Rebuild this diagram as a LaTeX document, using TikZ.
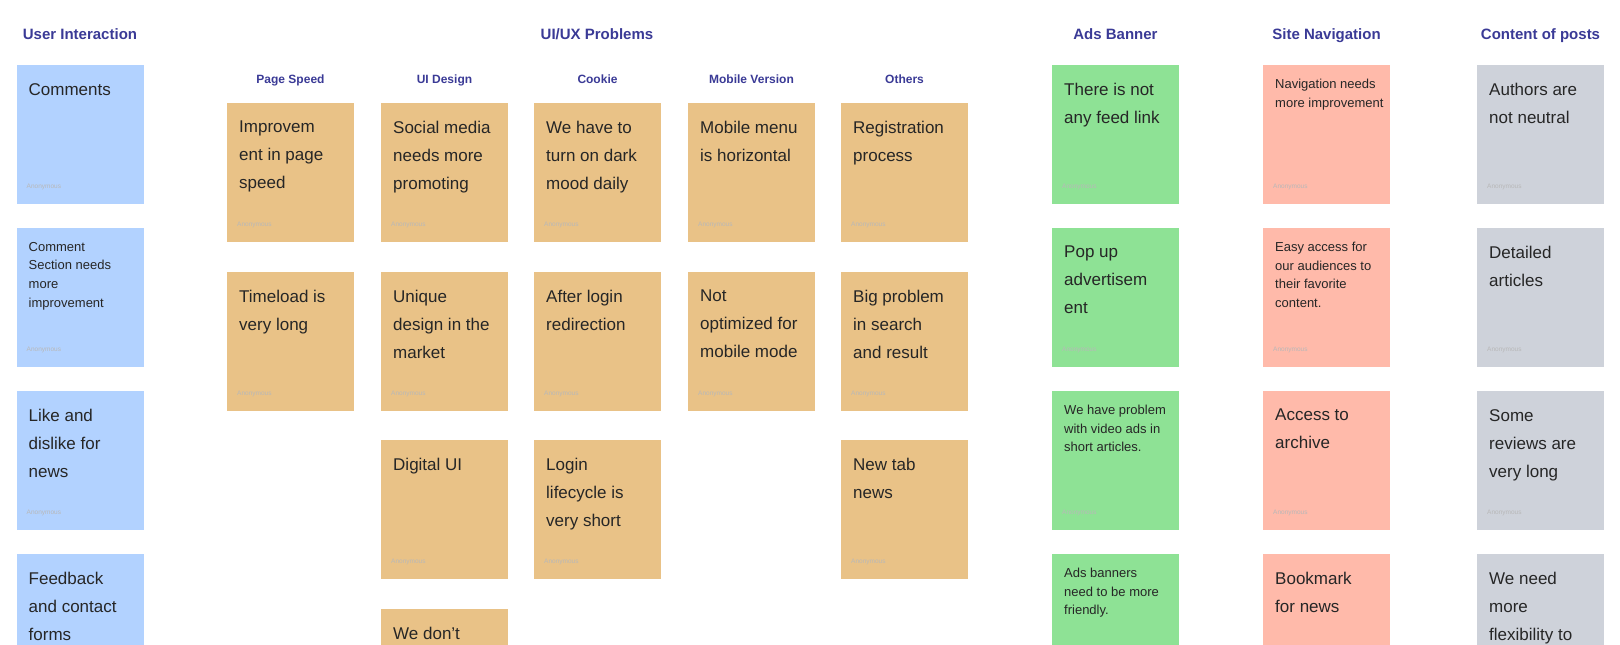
\documentclass[tikz,border=0pt]{standalone}
\usepackage{fontspec}
\setmainfont{Liberation Sans}
\usetikzlibrary{positioning}

\definecolor{headblue}{RGB}{58,58,150}
\definecolor{noteblue}{RGB}{178,210,255}
\definecolor{noteorange}{RGB}{233,194,135}
\definecolor{notegreen}{RGB}{142,226,149}
\definecolor{notepink}{RGB}{255,186,170}
\definecolor{notegray}{RGB}{206,210,218}

\begin{document}
\begin{tikzpicture}[x=1pt, y=1pt,
    heading/.style={anchor=base, text=headblue, font=\bfseries\fontsize{15}{18}\selectfont},
    subheading/.style={anchor=base, text=headblue, font=\bfseries\fontsize{12}{14}\selectfont},
    tag/.style={text=black!28, font=\fontsize{6.5}{8}\selectfont, inner sep=0pt},
    sticky/.style={anchor=north west, inner sep=0pt, minimum width=127pt, minimum height=139pt,
        label={[tag, anchor=south west, xshift=10pt, yshift=14pt]south west:Anonymous}},
    note/.style={anchor=north west, align=left, inner sep=0pt, text=black!85, font=\fontsize{17}{28}\selectfont},
    smallnote/.style={note, font=\fontsize{13}{18.6}\selectfont}]

        % Frame of the board
        \useasboundingbox (0,0) rectangle (1620,-645);
        \clip (0,0) rectangle (1620,-645);

        % Group titles
        \node[heading] (hUser) at (80,-39.5) {User Interaction};
        \node[heading] (hProblems) at (597,-39.5) {UI/UX Problems};
        \node[heading] (hAds) at (1115.5,-39.5) {Ads Banner};
        \node[heading] (hNav) at (1326.5,-39.5) {Site Navigation};
        \node[heading] (hContent) at (1540.5,-39.5) {Content of posts};

        % Sub titles of UI/UX Problems
        \node[subheading] (hSpeed) at (290.5,-83.5) {Page Speed};
        \node[subheading] (hDesign) at (444.5,-83.5) {UI Design};
        \node[subheading] (hCookie) at (597.5,-83.5) {Cookie};
        \node[subheading] (hMobile) at (751.5,-83.5) {Mobile Version};
        \node[subheading] (hOthers) at (904.5,-83.5) {Others};

        % User Interaction
        \node[sticky, fill=noteblue] (usr1) at (16.5,-65) {};
        \node[note, below right=18pt and 12pt of usr1.north west] (usr1t) {Comments};
        \node[sticky, fill=noteblue] (usr2) at (16.5,-228) {};
        \node[smallnote, below right=14pt and 12pt of usr2.north west] (usr2t) {Comment\\Section needs\\more\\improvement};
        \node[sticky, fill=noteblue] (usr3) at (16.5,-391) {};
        \node[note, below right=18pt and 12pt of usr3.north west] (usr3t) {Like and\\dislike for\\news};
        \node[sticky, fill=noteblue] (usr4) at (16.5,-554) {};
        \node[note, below right=18pt and 12pt of usr4.north west] (usr4t) {Feedback\\and contact\\forms};

        % Page Speed
        \node[sticky, fill=noteorange] (spd1) at (227,-103) {};
        \node[note, below right=18pt and 12pt of spd1.north west] (spd1t) {Improvem\\ent in page\\speed};
        \node[sticky, fill=noteorange] (spd2) at (227,-272) {};
        \node[note, below right=18pt and 12pt of spd2.north west] (spd2t) {Timeload is\\very long};

        % UI Design
        \node[sticky, fill=noteorange] (dsg1) at (381,-103) {};
        \node[note, below right=18pt and 12pt of dsg1.north west] (dsg1t) {Social media\\needs more\\promoting};
        \node[sticky, fill=noteorange] (dsg2) at (381,-272) {};
        \node[note, below right=18pt and 12pt of dsg2.north west] (dsg2t) {Unique\\design in the\\market};
        \node[sticky, fill=noteorange] (dsg3) at (381,-440) {};
        \node[note, below right=18pt and 12pt of dsg3.north west] (dsg3t) {Digital UI};
        \node[sticky, fill=noteorange] (dsg4) at (381,-609) {};
        \node[note, below right=18pt and 12pt of dsg4.north west] (dsg4t) {We don't};

        % Cookie
        \node[sticky, fill=noteorange] (cki1) at (534,-103) {};
        \node[note, below right=18pt and 12pt of cki1.north west] (cki1t) {We have to\\turn on dark\\mood daily};
        \node[sticky, fill=noteorange] (cki2) at (534,-272) {};
        \node[note, below right=18pt and 12pt of cki2.north west] (cki2t) {After login\\redirection};
        \node[sticky, fill=noteorange] (cki3) at (534,-440) {};
        \node[note, below right=18pt and 12pt of cki3.north west] (cki3t) {Login\\lifecycle is\\very short};

        % Mobile Version
        \node[sticky, fill=noteorange] (mob1) at (688,-103) {};
        \node[note, below right=18pt and 12pt of mob1.north west] (mob1t) {Mobile menu\\is horizontal};
        \node[sticky, fill=noteorange] (mob2) at (688,-272) {};
        \node[note, below right=18pt and 12pt of mob2.north west] (mob2t) {Not\\optimized for\\mobile mode};

        % Others
        \node[sticky, fill=noteorange] (oth1) at (841,-103) {};
        \node[note, below right=18pt and 12pt of oth1.north west] (oth1t) {Registration\\process};
        \node[sticky, fill=noteorange] (oth2) at (841,-272) {};
        \node[note, below right=18pt and 12pt of oth2.north west] (oth2t) {Big problem\\in search\\and result};
        \node[sticky, fill=noteorange] (oth3) at (841,-440) {};
        \node[note, below right=18pt and 12pt of oth3.north west] (oth3t) {New tab\\news};

        % Ads Banner
        \node[sticky, fill=notegreen] (ads1) at (1052,-65) {};
        \node[note, below right=18pt and 12pt of ads1.north west] (ads1t) {There is not\\any feed link};
        \node[sticky, fill=notegreen] (ads2) at (1052,-228) {};
        \node[note, below right=18pt and 12pt of ads2.north west] (ads2t) {Pop up\\advertisem\\ent};
        \node[sticky, fill=notegreen] (ads3) at (1052,-391) {};
        \node[smallnote, below right=14pt and 12pt of ads3.north west] (ads3t) {We have problem\\with video ads in\\short articles.};
        \node[sticky, fill=notegreen] (ads4) at (1052,-554) {};
        \node[smallnote, below right=14pt and 12pt of ads4.north west] (ads4t) {Ads banners\\need to be more\\friendly.};

        % Site Navigation
        \node[sticky, fill=notepink] (nav1) at (1263,-65) {};
        \node[smallnote, below right=14pt and 12pt of nav1.north west] (nav1t) {Navigation needs\\more improvement};
        \node[sticky, fill=notepink] (nav2) at (1263,-228) {};
        \node[smallnote, below right=14pt and 12pt of nav2.north west] (nav2t) {Easy access for\\our audiences to\\their favorite\\content.};
        \node[sticky, fill=notepink] (nav3) at (1263,-391) {};
        \node[note, below right=18pt and 12pt of nav3.north west] (nav3t) {Access to\\archive};
        \node[sticky, fill=notepink] (nav4) at (1263,-554) {};
        \node[note, below right=18pt and 12pt of nav4.north west] (nav4t) {Bookmark\\for news};

        % Content of posts
        \node[sticky, fill=notegray] (cnt1) at (1477,-65) {};
        \node[note, below right=18pt and 12pt of cnt1.north west] (cnt1t) {Authors are\\not neutral};
        \node[sticky, fill=notegray] (cnt2) at (1477,-228) {};
        \node[note, below right=18pt and 12pt of cnt2.north west] (cnt2t) {Detailed\\articles};
        \node[sticky, fill=notegray] (cnt3) at (1477,-391) {};
        \node[note, below right=18pt and 12pt of cnt3.north west] (cnt3t) {Some\\reviews are\\very long};
        \node[sticky, fill=notegray] (cnt4) at (1477,-554) {};
        \node[note, below right=18pt and 12pt of cnt4.north west] (cnt4t) {We need\\more\\flexibility to};
\end{tikzpicture}
\end{document}
